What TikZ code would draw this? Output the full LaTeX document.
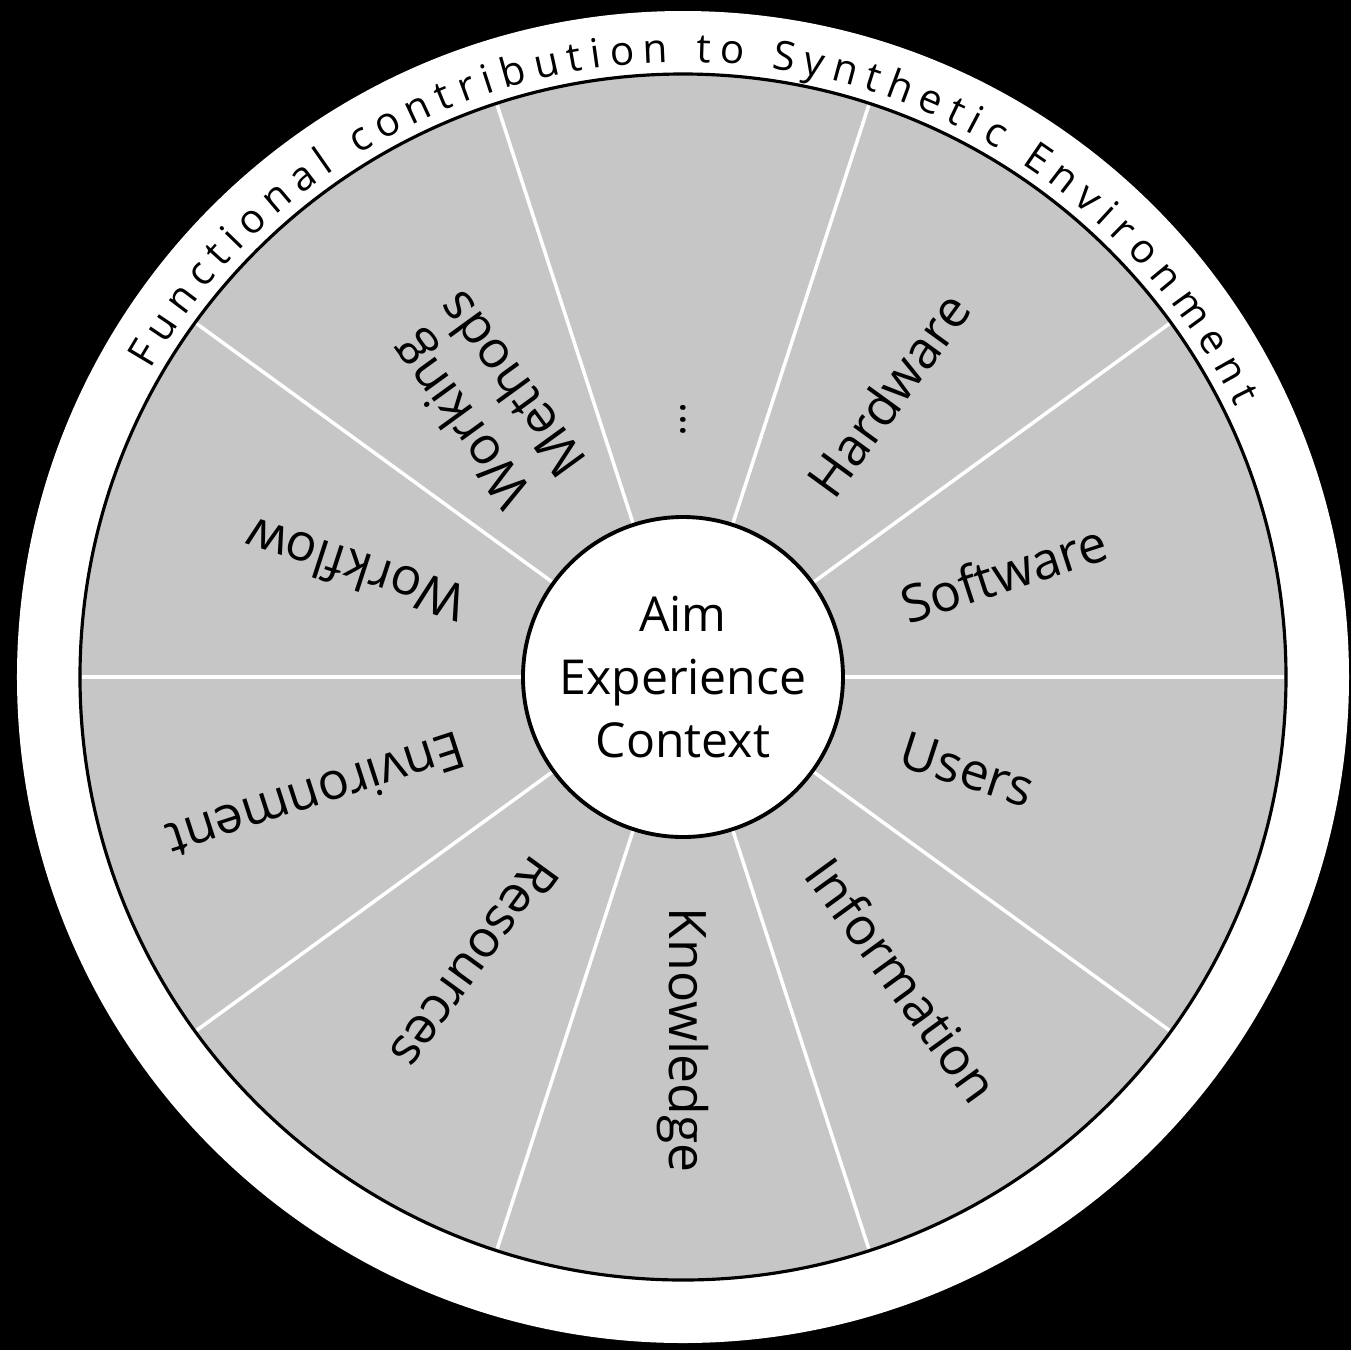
\documentclass[tikz,border=0pt]{standalone}
\usepackage{fontspec}
\setmainfont{Open Sans}
\usepackage{xcolor}
\usepackage{tikz}
\usetikzlibrary{decorations.text}
\definecolor{wheelgray}{RGB}{198,198,198}
\tikzset{spoke/.style={white, line width=1pt},
  sector/.style={anchor=west, inner sep=0pt, align=center, font=\fontsize{14.7}{18}\selectfont}}

\begin{document}
\begin{tikzpicture}
\fill [black] (-6.83,-6.73) rectangle (6.68,6.77);
\useasboundingbox (-6.83,-6.73) rectangle (6.68,6.77);
\fill [white] (0,0) circle (6.66);
\draw [line width=0.9pt, fill=wheelgray] (0,0) circle (6.03);
\draw [spoke] (0:1.6) -- (0:6.01);
\draw [spoke] (36:1.6) -- (36:6.01);
\draw [spoke] (72:1.6) -- (72:6.01);
\draw [spoke] (108:1.6) -- (108:6.01);
\draw [spoke] (144:1.6) -- (144:6.01);
\draw [spoke] (180:1.6) -- (180:6.01);
\draw [spoke] (216:1.6) -- (216:6.01);
\draw [spoke] (252:1.6) -- (252:6.01);
\draw [spoke] (288:1.6) -- (288:6.01);
\draw [spoke] (324:1.6) -- (324:6.01);
\node [circle, draw, line width=1.1pt, fill=white, minimum size=3.2cm, inner sep=0pt, align=center, font=\fontsize{13.7}{17.9}\selectfont] (aim) at (0,0) {Aim\\Experience\\Context};
\node [sector, rotate=54] (hw) at (54:2.3) {Hardware};
\node [sector, rotate=18] (sw) at (18:2.3) {Software};
\node [sector, rotate=-18] (users) at (-18:2.3) {Users};
\node [sector, rotate=-54] (info) at (-54:2.3) {Information};
\node [sector, rotate=-90] (know) at (-90:2.3) {Knowledge};
\node [sector, rotate=-126] (res) at (-126:2.3) {Resources};
\node [sector, rotate=-162] (env) at (-162:2.3) {Environment};
\node [sector, rotate=162] (flow) at (162:2.3) {Workflow};
\node [sector, rotate=126] (methods) at (126:2.3) {Working\\Methods};
\node [sector, rotate=90, font=\fontsize{12}{14}\selectfont] (more) at (90:2.4) {...};
\path [decorate, decoration={text along path, text align=fit to path, text={|\fontsize{11.5}{13}\selectfont|Functional contribution to Synthetic Environment}}] (150:6.15) arc [start angle=150, end angle=26, radius=6.15];
\end{tikzpicture}
\end{document}
